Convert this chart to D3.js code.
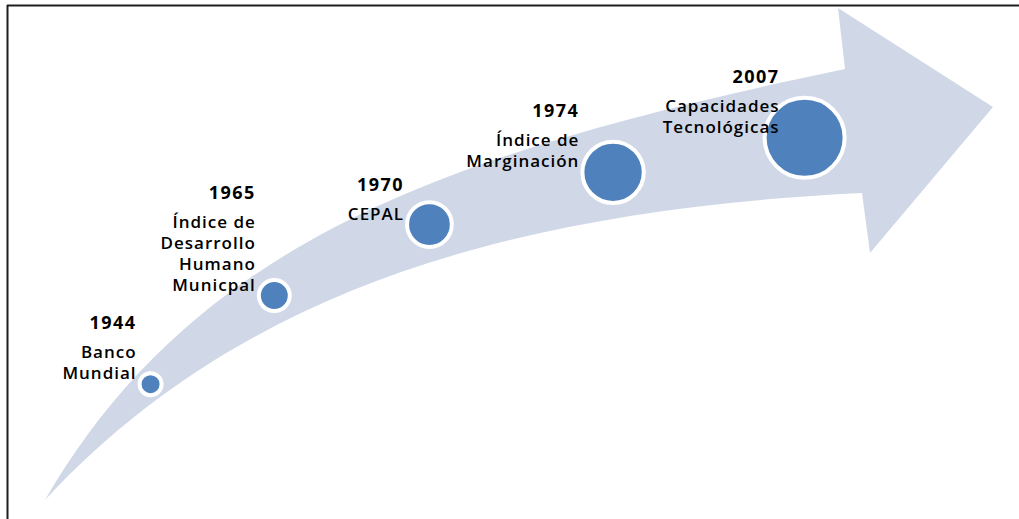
<!DOCTYPE html>
<html>
<head>
<meta charset="utf-8">
<script src="https://cdn.jsdelivr.net/npm/d3@7"></script>
<style>
  body { margin: 0; background: #fff; }
  svg { display: block; }
  .year { font-family: "Open Sans", sans-serif; font-weight: 700; font-size: 18px; letter-spacing: 1.5px; fill: #000; }
  .name { font-family: "Open Sans", sans-serif; font-weight: 600; font-size: 17px; letter-spacing: 1px; fill: #000; }
</style>
</head>
<body>
<div id="chart"></div>
<script>
// milestones on the arrow, in order
var years = ["1944", "1965", "1970", "1974", "2007"];
var names = [
  ["Banco", "Mundial"],
  ["Índice de", "Desarrollo", "Humano", "Municpal"],
  ["CEPAL"],
  ["Índice de", "Marginación"],
  ["Capacidades", "Tecnológicas"]
];

var width = 1019, height = 519;

var svg = d3.select("#chart")
    .append("svg")
        .attr("width", width)
        .attr("height", height);

// frame (top + left only)
svg.append("line")
    .attr("x1", 7).attr("x2", width).attr("y1", 5.5).attr("y2", 5.5)
    .style("stroke", "#1f1f1f").style("stroke-width", 2);
svg.append("line")
    .attr("x1", 7.5).attr("x2", 7.5).attr("y1", 5).attr("y2", height)
    .style("stroke", "#1f1f1f").style("stroke-width", 2);

// the curved arrow
var arrow = d3.path();
arrow.moveTo(45, 500);
arrow.bezierCurveTo(195, 242, 445, 152, 845, 69);
arrow.lineTo(838, 8);
arrow.lineTo(993, 107);
arrow.lineTo(870, 253);
arrow.lineTo(862, 193);
arrow.bezierCurveTo(512, 210, 240, 290, 45, 500);
arrow.closePath();

svg.append("path")
    .attr("d", arrow.toString())
    .style("fill", "#d0d8e8");

// centre line of the band, used to place the circles
var mid = d3.path();
mid.moveTo(45, 500);
mid.bezierCurveTo(217.5, 266, 478.5, 181, 853.5, 131);
var midNode = svg.append("path")
    .attr("d", mid.toString())
    .style("fill", "none")
    .style("stroke", "none")
    .node();

// circles grow along the arrow
var rScale = d3.scalePow().exponent(1.35)
    .domain([0, years.length - 1])
    .range([9, 38]);

var ring = 4;      // white outline
var gaps = [130, 137, 142, 128];   // space between neighbouring circles along the band
var start = 157;   // distance of the first circle from the tail

var data = years.map(function(y, i) {
    return {year: y, lines: names[i], r: rScale(i)};
});

var s = start;
data.forEach(function(d, i) {
    if (i > 0) s += data[i - 1].r + gaps[i - 1] + d.r;
    var p = midNode.getPointAtLength(s);
    d.x = p.x;
    d.y = p.y;
});

svg.selectAll("circle.milestone")
    .data(data)
    .enter()
    .append("circle")
    .attr("class", "milestone")
    .attr("cx", d => d.x)
    .attr("cy", d => d.y)
    .attr("r", d => d.r + ring / 2)
    .style("fill", "#4f81bd")
    .style("stroke", "#fff")
    .style("stroke-width", ring);

// labels sit to the upper left of each circle
var lineH = 21, yearGap = 29;
var nudge = {"2007": 18};   // last label overlaps its circle a bit

var labels = svg.selectAll("g.label")
    .data(data)
    .enter()
    .append("g")
    .attr("class", "label")
    .attr("transform", function(d) {
        var x = d.x - d.r - ring - 1 + (nudge[d.year] || 0);
        var y = d.y - 5;
        return "translate(" + x + "," + y + ")";
    });

labels.each(function(d) {
    var g = d3.select(this);
    var n = d.lines.length;
    d.lines.forEach(function(t, j) {
        g.append("text")
            .attr("class", "name")
            .attr("text-anchor", "end")
            .attr("y", -(n - 1 - j) * lineH)
            .text(t);
    });
    g.append("text")
        .attr("class", "year")
        .attr("text-anchor", "end")
        .attr("y", -(n - 1) * lineH - yearGap)
        .text(d.year);
});
</script>
</body>
</html>
